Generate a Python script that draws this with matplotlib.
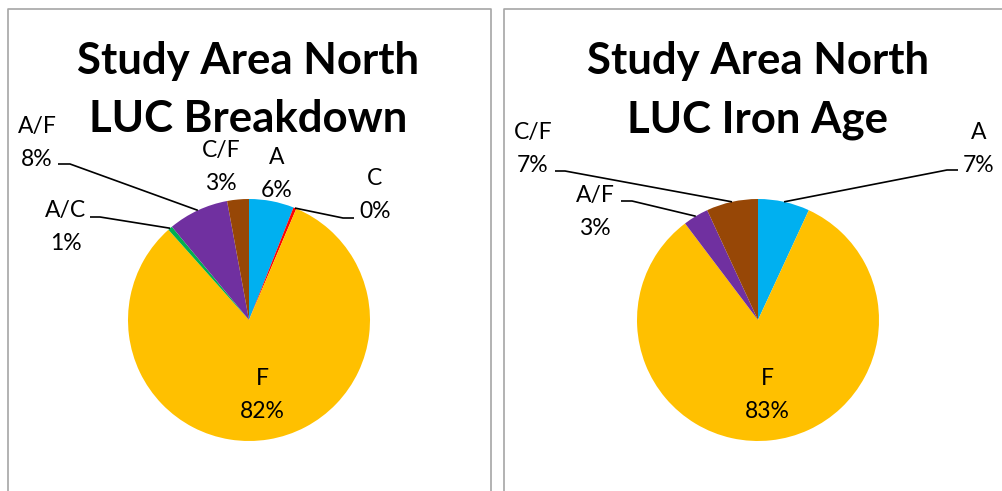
import matplotlib
matplotlib.use("Agg")
import matplotlib.pyplot as plt
import math

# ---------------- data ----------------
left_title = ["Study Area North", "LUC Breakdown"]
left_cats = ["A", "C", "F", "A/C", "A/F", "C/F"]
left_vals = [6.0, 0.4, 82.0, 0.6, 8.1, 2.9]

right_title = ["Study Area North", "LUC Iron Age"]
right_cats = ["A", "F", "A/F", "C/F"]
right_vals = [6.9, 82.8, 3.4, 6.9]

colors = {"A": "#00B0F0", "C": "#FF0000", "F": "#FFC000",
          "A/C": "#00B050", "A/F": "#7030A0", "C/F": "#974706"}

W, H = 1003, 491
plt.rcParams['font.family'] = ['Lato', 'DejaVu Sans']

fig = plt.figure(figsize=(W / 100, H / 100), dpi=100)
ax = fig.add_axes([0, 0, 1, 1])


def Y(y):
    return H - y


def pct(v, total):
    return f"{int(v / total * 100 + 0.5)}%"


# layout: label baselines / x centres, leader lines
left_layout = {
    "center": (249, 320), "r": 121, "tx": 248.5,
    "labels": {"A": (277, 164), "C": (375, 185), "F": (262, 385),
               "A/C": (66, 217), "A/F": (37, 133), "C/F": (221, 157)},
    "leaders": {"A/F": [(58, 164), (70, 164)],
                "C": [(354, 218), (343, 218)],
                "A/C": [(90, 217), (100, 217)]},
}
right_layout = {
    "center": (758, 320), "r": 121, "tx": 758,
    "labels": {"A": (979, 139), "F": (767, 385),
               "A/F": (595, 202), "C/F": (533, 139)},
    "leaders": {"C/F": [(555, 171), (565, 171)],
                "A/F": [(621, 201), (632, 201)],
                "A": [(958, 170), (947, 170)]},
}

TFS = 31.5
LFS = 16.5


def draw_panel(title, cats, vals, lay):
    cx, cy = lay["center"]
    r = lay["r"]
    wedges, _ = ax.pie(vals, colors=[colors[c] for c in cats],
                       startangle=90, counterclock=False,
                       center=(cx, Y(cy)), radius=r,
                       wedgeprops=dict(linewidth=0))
    total = sum(vals)
    ax.text(lay["tx"], Y(74), title[0], ha='center', va='baseline',
            fontsize=TFS, fontweight='bold')
    ax.text(lay["tx"], Y(132), title[1], ha='center', va='baseline',
            fontsize=TFS, fontweight='bold')
    for w, c, v in zip(wedges, cats, vals):
        lx, lb = lay["labels"][c]
        ax.text(lx, Y(lb), c, ha='center', va='baseline', fontsize=LFS)
        ax.text(lx, Y(lb + 33), pct(v, total), ha='center', va='baseline',
                fontsize=LFS)
        if c in lay["leaders"]:
            mid = math.radians((w.theta1 + w.theta2) / 2)
            px = cx + r * math.cos(mid)
            py = Y(cy) + r * math.sin(mid)
            (x0, y0), (x1, y1) = lay["leaders"][c]
            ax.plot([x0, x1, px], [Y(y0), Y(y1), py], color='black',
                    lw=1.2, solid_capstyle='butt')


draw_panel(left_title, left_cats, left_vals, left_layout)
draw_panel(right_title, right_cats, right_vals, right_layout)

# panel borders
bc = '#A6A6A6'
ax.plot([8, 8, 491, 491], [Y(495), Y(9), Y(9), Y(495)], color=bc, lw=1.2)
ax.plot([504, 504, 1010], [Y(495), Y(9), Y(9)], color=bc, lw=1.2)

ax.set_xlim(0, W)
ax.set_ylim(0, H)
ax.set_aspect('auto')
ax.axis('off')

fig.savefig("out.png", dpi=100)
